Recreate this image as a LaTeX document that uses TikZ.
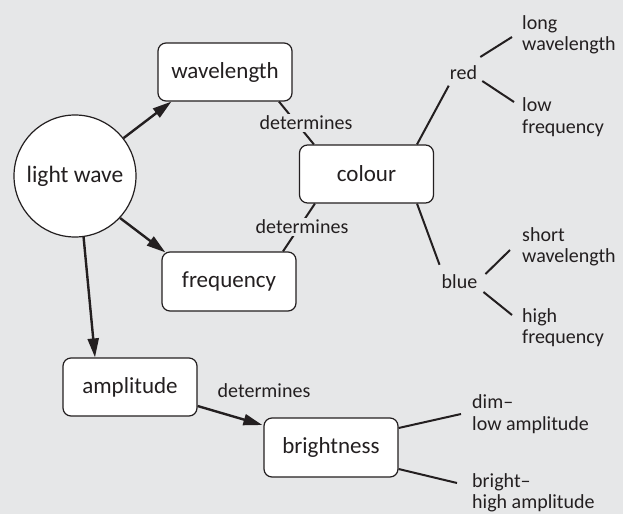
\documentclass[tikz,border=0pt]{standalone}
\usepackage{fontspec}
\setmainfont{Carlito}
\usetikzlibrary{arrows.meta}
\definecolor{bg}{RGB}{230,231,232}
\definecolor{ink}{RGB}{35,31,32}
\begin{document}
\begin{tikzpicture}[x=1pt,y=-1pt,
  box/.style={draw=ink,line width=1.2pt,fill=white,rounded corners=8pt,minimum width=134pt,minimum height=58pt,inner sep=0pt,font=\fontsize{23}{26}\selectfont,text=ink},
  lbl/.style={inner sep=0pt,font=\fontsize{20}{21.5}\selectfont,text=ink,align=left},
  det/.style={fill=bg,inner sep=2pt,font=\fontsize{20}{21.5}\selectfont,text=ink},
  con/.style={draw=ink,line width=2pt},
  arr/.style={draw=ink,line width=2.4pt,-{Triangle[length=19pt,width=11pt]}}]
\fill[bg] (0,0) rectangle (623,514);
\useasboundingbox (0,0) rectangle (623,514);
% main nodes
\node[circle,draw=ink,line width=1.2pt,fill=white,minimum size=122pt,inner sep=0pt,font=\fontsize{23.5}{26}\selectfont,text=ink] (lw) at (75,176) {light wave};
\node[box] (wl) at (225,72) {wavelength};
\node[box] (col) at (366.5,174) {colour};
\node[box,minimum height=59pt] (fr) at (229,281.5) {frequency};
\node[box] (amp) at (130,387) {amplitude};
\node[box,minimum height=59pt] (br) at (331,447.5) {brightness};
% small labels
\node[lbl] (red) at (463.5,72.5) {red};
\node[lbl] (blue) at (459.5,282) {blue};
\node[lbl,anchor=west] (lwl) at (522,35) {long\\wavelength};
\node[lbl,anchor=west] (lfr) at (522,117) {low\\frequency};
\node[lbl,anchor=west] (swl) at (522,247) {short\\wavelength};
\node[lbl,anchor=west] (hfr) at (522,327.5) {high\\frequency};
\node[lbl,anchor=west] (dim) at (472,414) {dim–\\low amplitude};
\node[lbl,anchor=west] (bri) at (472,493) {bright–\\high amplitude};
% determines lines
\draw[con] ([shift={(54,0)}]wl.south) -- ([shift={(15,0)}]col.north west);
\draw[con] ([shift={(54,0)}]fr.north) -- ([shift={(16,0)}]col.south west);
\node[det] (d1) at (306,123) {determines};
\node[det] (d2) at (302,227) {determines};
\node[lbl] (d3) at (264,391) {determines};
% arrows
\draw[arr] (lw.38) -- ([shift={(14,0)}]wl.south west);
\draw[arr] (lw.-43) -- ([shift={(4,1)}]fr.north west);
\draw[arr] (lw.-82) -- ([shift={(-35,0)}]amp.north);
\draw[arr] ([shift={(0,19)}]amp.east) -- ([shift={(-1,-22.5)}]br.west);
% branch lines
\draw[con] ([shift={(50.5,0)}]col.north) -- ([shift={(-1,6)}]red.south west);
\draw[con] ([shift={(3,-15.5)}]red.east) -- ([shift={(-10,2)}]lwl.west);
\draw[con] ([shift={(5,8.5)}]red.east) -- ([shift={(-8,-15)}]lfr.west);
\draw[con] ([shift={(50.5,0)}]col.south) -- ([shift={(-2,-10)}]blue.north west);
\draw[con] ([shift={(8,-8)}]blue.east) -- ([shift={(-12,3)}]swl.west);
\draw[con] ([shift={(6,10)}]blue.east) -- ([shift={(-10,-12.5)}]hfr.west);
\draw[con] ([shift={(0,-19.5)}]br.east) -- ([shift={(-11,0)}]dim.west);
\draw[con] ([shift={(0,21.5)}]br.east) -- ([shift={(-15,-10)}]bri.west);
\end{tikzpicture}
\end{document}
